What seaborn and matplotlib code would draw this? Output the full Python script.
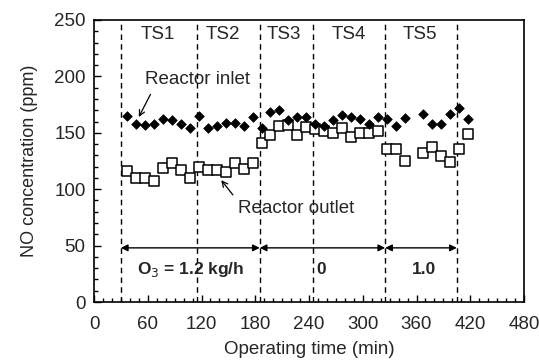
import seaborn as sns
import matplotlib.pyplot as plt
import pandas as pd
from matplotlib.ticker import MultipleLocator

# data
time = [37, 47, 57, 67, 77, 87, 97, 107, 117, 127, 137, 147, 157, 167, 177, 187,
        197, 207, 217, 227, 237, 247, 257, 267, 277, 287, 297, 307, 317, 327, 337, 347,
        367, 377, 387, 397, 407, 417]
inlet = [165, 158, 157, 158, 162, 161, 158, 154, 165, 154, 156, 159, 159, 156, 164, 154,
         168, 170, 161, 164, 164, 158, 156, 161, 166, 164, 162, 158, 164, 162, 156, 163,
         167, 158, 158, 167, 172, 162]
outlet = [116, 110, 110, 107, 119, 123, 117, 110, 120, 117, 117, 115, 123, 118, 123, 141,
          148, 156, 157, 148, 155, 153, 152, 150, 154, 146, 150, 150, 152, 136, 136, 125,
          132, 137, 129, 124, 136, 149]
step_edges = [30, 115, 185, 245, 325, 405]
step_names = ['TS1', 'TS2', 'TS3', 'TS4', 'TS5']
step_label_x = [71, 144, 212, 284, 364]
dose_spans = [(30, 185), (185, 325), (325, 405)]
dose_labels = ['O$_3$ = 1.2 kg/h', '0', '1.0']
dose_label_x = [108, 254, 368]

df = pd.DataFrame({'time': time, 'inlet': inlet, 'outlet': outlet})

sns.set_style('ticks')
plt.rcParams['font.family'] = ['Liberation Sans', 'DejaVu Sans']

fig = plt.figure(figsize=(5.39, 3.63), dpi=100)
ax = fig.add_axes([0.1744, 0.168, 0.7978, 0.777])

sns.scatterplot(data=df, x='time', y='inlet', marker='D', s=24, color='black',
                edgecolor='black', linewidth=0.5, ax=ax, zorder=3)
sns.scatterplot(data=df, x='time', y='outlet', marker='s', s=58, facecolor='white',
                edgecolor='black', linewidth=1.1, ax=ax, zorder=2)

# dashed lines between test steps
for xe in step_edges:
    ax.axvline(xe, color='black', linestyle=(0, (4, 3)), linewidth=1.0, zorder=1)

for name, xt in zip(step_names, step_label_x):
    ax.text(xt, 237, name, ha='center', va='center', fontsize=13.5)

# ozone dose arrows
for (x0, x1), lab, xl in zip(dose_spans, dose_labels, dose_label_x):
    ax.annotate('', xy=(x0, 48), xytext=(x1, 48),
                arrowprops=dict(arrowstyle='<|-|>', color='black', lw=1.0,
                                mutation_scale=10, shrinkA=0, shrinkB=0))
    ax.text(xl, 29, lab, ha='center', va='center', fontsize=12.5, fontweight='bold')

# series labels with pointer arrows
ax.text(57, 197, 'Reactor inlet', ha='left', va='center', fontsize=13.5)
ax.annotate('', xy=(50, 164), xytext=(63, 184),
            arrowprops=dict(arrowstyle='->', color='black', lw=0.9, shrinkA=0, shrinkB=0))
ax.text(161, 83, 'Reactor outlet', ha='left', va='center', fontsize=13.5)
ax.annotate('', xy=(142, 108), xytext=(155, 95),
            arrowprops=dict(arrowstyle='->', color='black', lw=0.9, shrinkA=0, shrinkB=0))

ax.set_xlim(0, 480)
ax.set_ylim(0, 250)
ax.xaxis.set_major_locator(MultipleLocator(60))
ax.xaxis.set_minor_locator(MultipleLocator(10))
ax.yaxis.set_major_locator(MultipleLocator(50))
ax.yaxis.set_minor_locator(MultipleLocator(10))
ax.tick_params(which='major', direction='in', length=5, width=1, labelsize=13.5,
               color='black')
ax.tick_params(axis='x', which='major', pad=10)
ax.tick_params(axis='y', which='major', pad=6)
ax.tick_params(which='minor', direction='in', length=3, width=1, color='black')
for sp in ax.spines.values():
    sp.set_linewidth(1.2)
    sp.set_color('black')

ax.set_xlabel('Operating time (min)', fontsize=13.5, labelpad=6)
ax.set_ylabel('NO concentration (ppm)', fontsize=13, labelpad=12)

fig.savefig('out.png', dpi=100)
